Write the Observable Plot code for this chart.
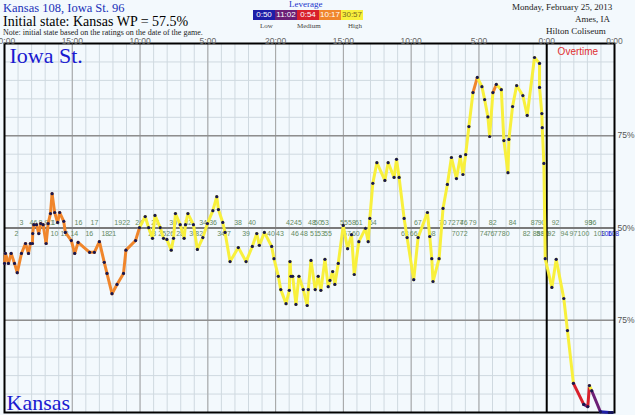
<!DOCTYPE html>
<html><head><meta charset="utf-8">
<script src="https://cdn.jsdelivr.net/npm/d3@7"></script>
<script src="https://cdn.jsdelivr.net/npm/@observablehq/plot@0.6"></script>
<style>
html,body{margin:0;padding:0;background:#f3f9fd;}
#wrap{position:relative;width:635px;height:415px;overflow:hidden;background:#f3f9fd;}
#wrap svg{position:absolute;left:0;top:0;}
.t{position:absolute;white-space:nowrap;font-family:"Liberation Serif","Times New Roman",serif;line-height:1;}
.box{position:absolute;top:10px;height:10px;font-family:"Liberation Sans",Arial,sans-serif;font-size:8px;line-height:10px;text-align:center;color:#fff;}
</style></head><body><div id="wrap"></div>
<script>
// ---- data ----
const gameMinutes = [0.00,0.07,0.29,0.49,0.74,0.94,1.25,1.55,1.77,1.91,2.06,2.08,2.16,2.36,2.53,2.67,2.85,3.07,3.22,3.39,3.51,3.70,3.92,4.07,4.37,4.49,4.93,5.18,5.43,6.28,6.63,7.00,7.36,7.56,7.93,8.30,8.78,8.96,9.67,9.96,10.38,10.63,10.92,11.10,11.49,11.73,11.98,12.30,12.47,12.61,12.96,13.25,13.35,13.53,13.94,14.23,14.63,14.97,15.37,15.66,15.78,16.10,16.27,16.64,17.25,17.82,18.28,18.61,18.80,19.17,19.71,19.88,20.20,20.38,20.77,21.01,21.06,21.13,21.26,21.50,21.72,22.04,22.33,22.41,22.61,22.92,23.14,23.34,23.64,23.88,24.01,24.21,24.37,24.62,24.99,25.31,25.60,25.80,26.14,26.63,26.83,26.95,27.17,27.47,28.06,28.30,28.74,28.92,29.11,29.48,29.70,30.19,30.51,31.20,31.37,31.52,31.61,32.06,32.35,32.67,32.97,33.34,33.63,33.82,34.02,34.26,34.56,34.88,35.22,35.42,35.66,35.79,36.03,36.28,36.65,36.84,37.14,37.21,37.48,37.78,38.24,38.56,39.10,39.47,39.47,39.64,39.67,39.79,39.89,40.38,40.70,41.26,41.53,41.97,42.73,43.03,43.15,43.32,43.96,44.62,44.82];
const iowaStWP = [40.4,43.1,40.4,43.1,40.4,37.9,43.1,45.8,43.1,45.8,45.8,48.5,50.9,50.9,48.5,51.2,50.9,45.8,51.2,53.9,59.3,54.2,51.5,54.2,51.8,48.8,46.6,43.1,46.1,43.4,43.4,46.3,40.7,37.7,32.2,34.7,37.7,44.0,46.6,50.1,53.1,50.1,47.2,53.4,50.1,47.2,46.9,44.0,47.2,53.9,50.9,47.2,50.9,53.9,50.9,44.2,47.4,51.2,54.7,58.5,55.0,51.5,48.8,40.9,44.7,40.9,45.0,48.5,45.3,48.8,45.0,41.7,36.9,33.3,29.5,33.1,40.9,36.9,36.9,29.3,36.9,33.3,29.0,33.3,41.2,33.3,36.9,33.1,41.5,34.1,35.8,38.2,34.7,40.4,50.7,44.4,48.2,37.4,46.3,49.9,46.3,52.6,62.1,67.7,62.9,67.7,63.7,68.6,63.7,52.6,47.4,36.0,47.4,54.2,47.7,41.7,35.5,41.7,55.3,61.8,69.1,63.4,69.4,64.5,69.9,77.5,86.7,90.8,88.3,84.8,80.1,74.8,86.7,88.9,87.5,73.7,65.0,74.0,82.9,88.6,85.9,80.5,96.2,94.6,88.1,81.0,77.2,67.5,41.7,33.9,41.5,30.9,22.2,7.9,2.2,1.6,7.3,5.9,0.2,0.0,0.0];
// leverage level (1 low .. 5 high) of the line from each start minute on
const leverageRunStarts = [0, 9.96, 34.56, 34.88, 36.03, 36.28, 41.97, 42.73, 43.03, 43.15, 43.32, 43.96];
const leverageRunLevels = [4, 5, 4, 5, 4, 5, 3, 2, 3, 5, 2, 1];
const leverageNames = ["0:50","11:02","0:54","10:17","30:57"];
const levelColors = ["#1e1ea8","#6c1f76","#d8202c","#f0862c","#f8f03c"];

const isuScoreLabels = ["3","4","6","8","9","11","14","16","17","19","22","24","27","30","32","34","36","38","40","42","45","48","50","53","55","58","61","64","67","70","72","74","76","79","82","84","87","90","92","93","96"];
const isuScoreTimes = [1.25,1.99,2.28,2.65,3.09,3.39,3.76,5.45,6.63,8.39,8.98,9.94,11.12,12.44,13.55,14.65,15.39,17.23,18.26,21.06,21.65,22.68,23.12,23.64,25.04,25.63,26.14,27.17,30.49,32.33,32.99,33.58,33.87,34.54,36.01,37.48,39.10,39.62,40.65,43.08,43.37];
const kuScoreLabels = ["2","10","12","14","16","18","21","23","25","26","28","30","32","34","37","39","40","43","46","48","51","53","55","57","60","63","66","68","70","72","74","76","77","80","82","85","88","90","92","94","97","100","103","106","108"];
const kuScoreTimes = [0.88,3.68,4.42,5.15,6.26,7.44,7.95,10.90,11.63,12.22,12.96,13.92,14.36,15.98,16.42,17.82,19.66,20.32,21.43,22.09,22.83,23.34,23.86,25.26,25.92,29.53,30.19,31.52,33.28,33.87,35.35,35.86,36.38,36.97,38.51,39.25,39.54,39.91,40.35,41.31,41.97,42.71,43.89,44.40,44.92];

const timeLabels = ["20:00","15:00","10:00","5:00","20:00","15:00","10:00","5:00","0:00","0:00"];
const timeTickMinutes = [0,5,10,15,20,25,30,35,40,45];
const pctLabels = ["75%","50%","75%"];
const pctValues = [75,50,25];

// ---- build ----
const pts = gameMinutes.map((t,i)=>({t, wp: iowaStWP[i]}));
function levelAt(t){ let lv = leverageRunLevels[0]; leverageRunStarts.forEach((s,k)=>{ if (t >= s - 1e-9) lv = leverageRunLevels[k]; }); return lv; }
const segs = d3.pairs(pts).map(([a,b])=>({a, b, lev: levelAt(a.t)}));
const serif = "Liberation Serif, Times New Roman, serif";
const sans = "Liberation Sans, Arial, sans-serif";

const chart = Plot.plot({
  width:635, height:415,
  marginLeft:4, marginRight:21, marginTop:43, marginBottom:3,
  style:{background:"transparent", overflow:"visible", fontFamily:sans},
  x:{domain:[0,45], axis:null},
  y:{domain:[0,100], axis:null},
  color:{type:"ordinal", domain:[1,2,3,4,5], range:levelColors},
  marks:[
    Plot.ruleX(d3.range(1,45), {stroke:"#cfd9e0", strokeWidth:1}),
    Plot.ruleY(d3.range(5,100,5), {stroke:"#cfd9e0", strokeWidth:1}),
    Plot.ruleX([5,10,15,20,25,30,35], {stroke:"#a4a4a4", strokeWidth:1}),
    Plot.ruleY([25,75], {stroke:"#8e8e8e", strokeWidth:1.3}),
    Plot.ruleY([50], {stroke:"#7a7a7a", strokeWidth:2.2}),
    Plot.text(isuScoreLabels, {x:(d,i)=>isuScoreTimes[i], y:()=>50, dy:-5, text:d=>d, fontSize:7, fill:"#638a63"}),
    Plot.text(kuScoreLabels, {x:(d,i)=>kuScoreTimes[i], y:()=>50, dy:6, text:d=>d, fontSize:7, fill:(d,i)=> i>=43 ? "#2b2bd8" : "#638a63"}),
    Plot.ruleX([40], {stroke:"#000", strokeWidth:2}),
    Plot.frame({stroke:"#000", strokeWidth:2}),
    Plot.link(segs, {x1:d=>d.a.t, y1:d=>d.a.wp, x2:d=>d.b.t, y2:d=>d.b.wp, stroke:"lev", strokeWidth:3, strokeLinecap:"round"}),
    Plot.dot(pts, {x:"t", y:"wp", r:1.6, fill:"#17174f", stroke:null}),
    Plot.text(timeLabels, {x:(d,i)=>timeTickMinutes[i], frameAnchor:"top", dy:-6, text:d=>d, fontSize:8.5, fill:"#666"}),
    Plot.text(pctLabels, {y:(d,i)=>pctValues[i], frameAnchor:"right", dx:3, textAnchor:"start", text:d=>d, fontSize:8.5, fill:"#555"}),
    Plot.text(["Iowa St."], {frameAnchor:"top-left", dx:5, dy:19, lineAnchor:"bottom", textAnchor:"start", text:d=>d, fontSize:22, fontFamily:serif, fill:"#1a1ad0"}),
    Plot.text(["Kansas"], {frameAnchor:"bottom-left", dx:2, dy:-3, lineAnchor:"bottom", textAnchor:"start", text:d=>d, fontSize:22, fontFamily:serif, fill:"#1a1ad0"}),
    Plot.text(["Overtime"], {x:()=>42.3, frameAnchor:"top", dy:11, lineAnchor:"bottom", text:d=>d, fontSize:10, fill:"#e03030"})
  ]
});
const wrap = document.getElementById("wrap");
wrap.appendChild(chart);

// ---- header & leverage legend ----
function addText(txt, left, top, size, color, extra){
  const d = document.createElement("div");
  d.className = "t"; d.textContent = txt;
  d.style.left = left+"px"; d.style.top = top+"px"; d.style.fontSize = size+"px"; d.style.color = color;
  if (extra) Object.assign(d.style, extra);
  wrap.appendChild(d); return d;
}
addText("Kansas 108, Iowa St. 96", 3, 2, 12.5, "#2030b8");
addText("Initial state: Kansas WP = 57.5%", 3, 15, 14, "#000");
addText("Note: initial state based on the ratings on the date of the game.", 3, 28.5, 8, "#222");
addText("Leverage", 289, 0, 9, "#2233cc");
const boxX = [253,275,297,319,341];
leverageNames.forEach((n,i)=>{
  const b = document.createElement("div");
  b.className = "box"; b.textContent = n;
  b.style.left = boxX[i]+"px"; b.style.width = "22px"; b.style.background = levelColors[i];
  if (i===4) b.style.color = "#7a6a20";
  wrap.appendChild(b);
});
addText("Low", 260, 23, 7, "#444");
addText("Medium", 297, 23, 7, "#444");
addText("High", 348, 23, 7, "#444");
const r1 = addText("Monday, February 25, 2013", 0, 3, 9, "#222");
const r2 = addText("Ames, IA", 0, 15, 9, "#222");
const r3 = addText("Hilton Coliseum", 0, 27, 9, "#222");
[[r1,612],[r2,610],[r3,606]].forEach(([el,right])=>{ el.style.left = (right - el.offsetWidth)+"px"; });
</script>
</body></html>
